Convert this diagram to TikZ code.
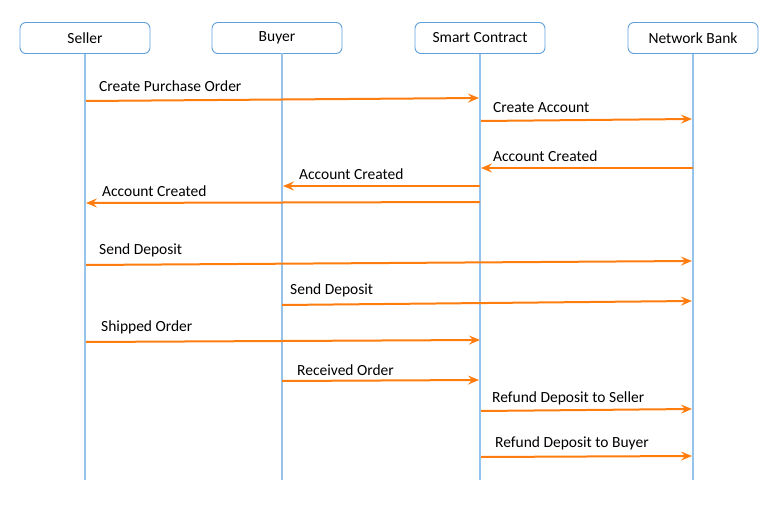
\documentclass[tikz,border=0pt]{standalone}
\usepackage{fontspec}
\setmainfont{Carlito}
\usetikzlibrary{arrows.meta}
\definecolor{msgorange}{RGB}{255,125,15}
\definecolor{boxblue}{RGB}{95,160,220}
\definecolor{lifeblue}{RGB}{150,195,235}
\begin{document}
\begin{tikzpicture}[x=1pt,y=-1pt,
  actor/.style={draw=boxblue, line width=0.9pt, rounded corners=6pt, minimum width=130pt, minimum height=31pt, inner sep=0pt, font=\fontsize{15.5}{18}\selectfont},
  lifeline/.style={draw=lifeblue, line width=1.2pt},
  msg/.style={draw=msgorange, line width=2pt, -{Stealth[length=11pt,width=9pt,inset=4pt]}},
  lbl/.style={anchor=west, inner sep=0pt, yshift=-1.5pt, font=\fontsize{15.5}{18}\selectfont}]
\useasboundingbox (0,0) rectangle (779,513);
% actors
\node[actor] (seller) at (85,38) {Seller};
\node[actor] (buyer) at (277,38) {Buyer};
\node[actor] (sc) at (480,38) {Smart Contract};
\node[actor] (nb) at (693,38) {Network Bank};
% lifeline ends
\coordinate (sellerend) at (85,480);
\coordinate (buyerend) at (282,480);
\coordinate (scend) at (480,480);
\coordinate (nbend) at (693,480);
\coordinate (buyertop) at (282,53.5);
\draw[lifeline] (seller.south) -- (sellerend);
\draw[lifeline] (buyertop) -- (buyerend);
\draw[lifeline] (sc.south) -- (scend);
\draw[lifeline] (nb.south) -- (nbend);
% message endpoints
\coordinate (a1) at (86,101); \coordinate (b1) at (479,98);
\coordinate (a2) at (481,121); \coordinate (b2) at (692,119);
\coordinate (a3) at (693,168); \coordinate (b3) at (481,168);
\coordinate (a4) at (480,186); \coordinate (b4) at (283,186);
\coordinate (a5) at (480,202); \coordinate (b5) at (86,203);
\coordinate (a6) at (86,265); \coordinate (b6) at (692,261);
\coordinate (a7) at (282,305); \coordinate (b7) at (692,301);
\coordinate (a8) at (86,342); \coordinate (b8) at (480,340);
\coordinate (a9) at (282,381); \coordinate (b9) at (479,380);
\coordinate (a10) at (481,411); \coordinate (b10) at (692,409);
\coordinate (a11) at (481,457); \coordinate (b11) at (692,456);
\draw[msg] (a1) -- (b1);
\draw[msg] (a2) -- (b2);
\draw[msg] (a3) -- (b3);
\draw[msg] (a4) -- (b4);
\draw[msg] (a5) -- (b5);
\draw[msg] (a6) -- (b6);
\draw[msg] (a7) -- (b7);
\draw[msg] (a8) -- (b8);
\draw[msg] (a9) -- (b9);
\draw[msg] (a10) -- (b10);
\draw[msg] (a11) -- (b11);
% labels
\node[lbl] (l1) at (99,84.5) {Create Purchase Order};
\node[lbl] (l2) at (493,106.5) {Create Account};
\node[lbl] (l3) at (493,154.5) {Account Created};
\node[lbl] (l4) at (299,172.5) {Account Created};
\node[lbl] (l5) at (102,189.5) {Account Created};
\node[lbl] (l6) at (99,248.5) {Send Deposit};
\node[lbl] (l7) at (290,288.5) {Send Deposit};
\node[lbl] (l8) at (101,325.5) {Shipped Order};
\node[lbl] (l9) at (297,368.5) {Received Order};
\node[lbl] (l10) at (492,396.5) {Refund Deposit to Seller};
\node[lbl] (l11) at (495,441.5) {Refund Deposit to Buyer};
\end{tikzpicture}
\end{document}
